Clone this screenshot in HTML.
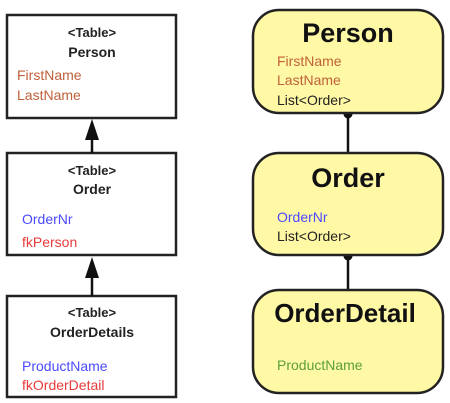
<!DOCTYPE html>
<html><head><style>
html,body{margin:0;padding:0;background:#fff;width:450px;height:403px;overflow:hidden}
body{position:relative;font-family:"Liberation Sans",sans-serif}
.t{position:absolute;white-space:nowrap;line-height:1}
.c{transform:translateX(-50%)}
</style></head><body>
<svg width="450" height="403" style="position:absolute;left:0;top:0">
<g fill="#fff" stroke="#222" stroke-width="2.5">
<rect x="7" y="15" width="169" height="103"/>
<rect x="7" y="153" width="169" height="102"/>
<rect x="7" y="296" width="169" height="101"/>
</g>
<g stroke="#111" stroke-width="2.5">
<line x1="92" y1="138" x2="92" y2="153"/>
<line x1="92" y1="276" x2="92" y2="296"/>
<line x1="348" y1="113" x2="348" y2="153"/>
<line x1="348" y1="255" x2="348" y2="290"/>
</g>
<g fill="#111">
<polygon points="92,119 85,140 99,140"/>
<polygon points="92,257 85,278 99,278"/>
<circle cx="348" cy="114" r="4.5"/>
<circle cx="348" cy="256" r="4.5"/>
</g>
<g fill="#fff9a6" stroke="#222" stroke-width="2.5">
<rect x="253" y="10" width="190" height="103" rx="26"/>
<rect x="253" y="153" width="190" height="102" rx="26"/>
<rect x="253" y="290" width="190" height="103" rx="26"/>
</g>
</svg>
<div class="t c" style="left:92px;top:26px;font-size:13px;font-weight:bold;color:#222">&lt;Table&gt;</div>
<div class="t c" style="left:92px;top:45px;font-size:14px;font-weight:bold;color:#222">Person</div>
<div class="t" style="left:17px;top:68px;font-size:14px;color:#c0603a">FirstName</div>
<div class="t" style="left:17px;top:88px;font-size:14px;color:#c0603a">LastName</div>
<div class="t c" style="left:92px;top:164px;font-size:13px;font-weight:bold;color:#222">&lt;Table&gt;</div>
<div class="t c" style="left:92px;top:182px;font-size:14px;font-weight:bold;color:#222">Order</div>
<div class="t" style="left:22px;top:212px;font-size:14px;color:#4a4aff">OrderNr</div>
<div class="t" style="left:22px;top:235px;font-size:14px;color:#e83a3a">fkPerson</div>
<div class="t c" style="left:92px;top:306px;font-size:13px;font-weight:bold;color:#222">&lt;Table&gt;</div>
<div class="t c" style="left:92px;top:325px;font-size:14px;font-weight:bold;color:#222">OrderDetails</div>
<div class="t" style="left:22px;top:359px;font-size:14px;color:#4a4aff">ProductName</div>
<div class="t" style="left:22px;top:378px;font-size:14px;color:#e83a3a">fkOrderDetail</div>
<div class="t c" style="left:348px;top:20px;font-size:27px;font-weight:bold;color:#111">Person</div>
<div class="t" style="left:277px;top:54px;font-size:14px;color:#c0603a">FirstName</div>
<div class="t" style="left:277px;top:73px;font-size:14px;color:#c0603a">LastName</div>
<div class="t" style="left:277px;top:93px;font-size:14px;color:#222">List&lt;Order&gt;</div>
<div class="t c" style="left:348px;top:165px;font-size:27px;font-weight:bold;color:#111">Order</div>
<div class="t" style="left:277px;top:210px;font-size:14px;color:#4a4aff">OrderNr</div>
<div class="t" style="left:277px;top:229px;font-size:14px;color:#222">List&lt;Order&gt;</div>
<div class="t c" style="left:345px;top:300px;font-size:26px;font-weight:bold;color:#111">OrderDetail</div>
<div class="t" style="left:277px;top:358px;font-size:14px;color:#5a9e3a">ProductName</div>
</body></html>
